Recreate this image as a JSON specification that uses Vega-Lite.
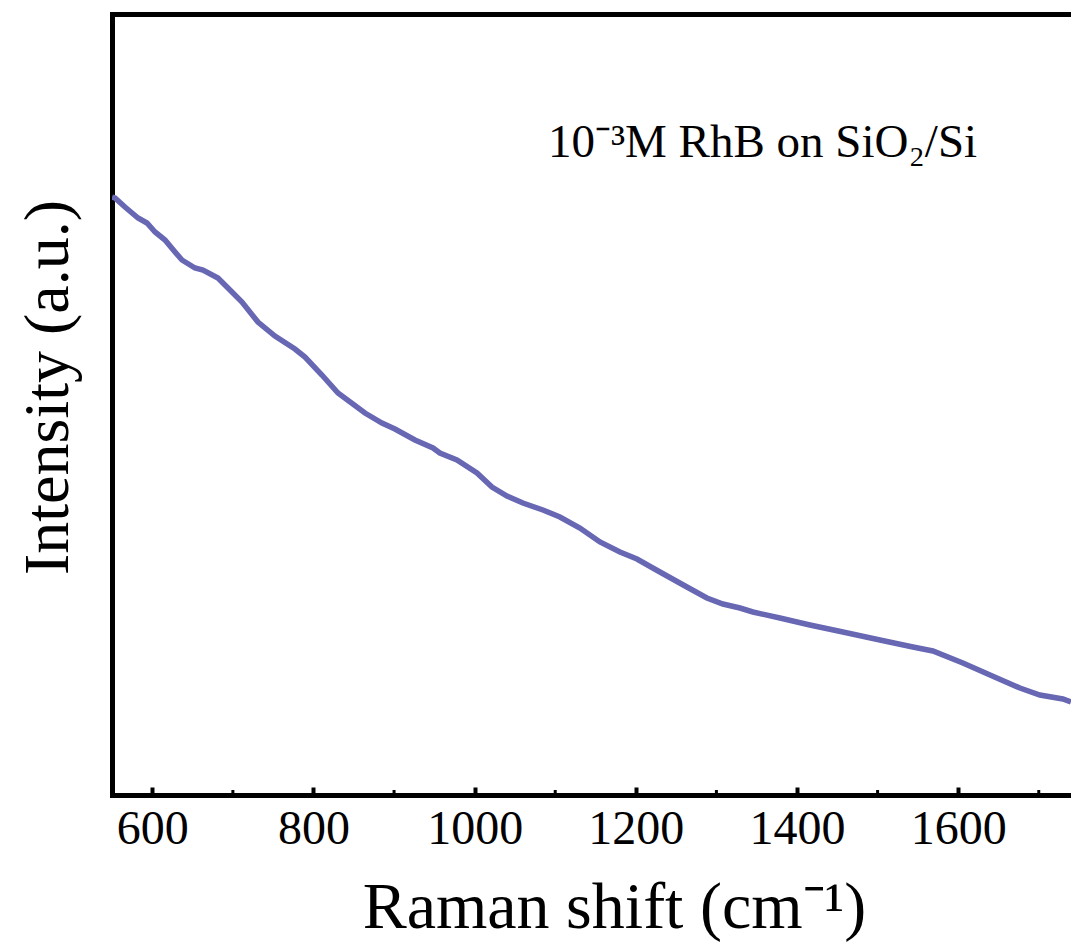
{
  "$schema": "https://vega.github.io/schema/vega-lite/v6.json",
  "width": 959,
  "height": 781,
  "autosize": "none",
  "padding": {"left": 112, "top": 14, "right": 0, "bottom": 148},
  "background": "white",
  "config": {"view": {"stroke": null}, "font": "Liberation Serif"},
  "layer": [
    {
      "data": {"values": [
        {"shift": 550.0, "intensity": 598},
        {"shift": 553.7, "intensity": 597},
        {"shift": 566.1, "intensity": 588},
        {"shift": 582.3, "intensity": 577},
        {"shift": 593.4, "intensity": 572},
        {"shift": 603.4, "intensity": 563},
        {"shift": 615.8, "intensity": 555},
        {"shift": 628.2, "intensity": 543},
        {"shift": 636.8, "intensity": 535},
        {"shift": 653.0, "intensity": 527},
        {"shift": 662.9, "intensity": 525},
        {"shift": 681.5, "intensity": 517},
        {"shift": 693.9, "intensity": 507},
        {"shift": 711.3, "intensity": 493},
        {"shift": 731.1, "intensity": 473},
        {"shift": 752.2, "intensity": 459},
        {"shift": 777.0, "intensity": 446},
        {"shift": 789.5, "intensity": 438},
        {"shift": 810.5, "intensity": 420},
        {"shift": 830.4, "intensity": 402},
        {"shift": 863.9, "intensity": 382},
        {"shift": 885.0, "intensity": 372},
        {"shift": 901.1, "intensity": 366},
        {"shift": 925.9, "intensity": 355},
        {"shift": 948.3, "intensity": 347},
        {"shift": 956.9, "intensity": 342},
        {"shift": 978.0, "intensity": 335},
        {"shift": 1002.9, "intensity": 322},
        {"shift": 1021.5, "intensity": 308},
        {"shift": 1040.1, "intensity": 299},
        {"shift": 1059.9, "intensity": 292},
        {"shift": 1084.7, "intensity": 285},
        {"shift": 1105.8, "intensity": 278},
        {"shift": 1130.6, "intensity": 267},
        {"shift": 1155.5, "intensity": 253},
        {"shift": 1180.3, "intensity": 243},
        {"shift": 1201.4, "intensity": 236},
        {"shift": 1229.9, "intensity": 223},
        {"shift": 1263.4, "intensity": 208},
        {"shift": 1288.2, "intensity": 197},
        {"shift": 1308.1, "intensity": 191},
        {"shift": 1329.2, "intensity": 187},
        {"shift": 1345.3, "intensity": 183},
        {"shift": 1378.8, "intensity": 177},
        {"shift": 1416.0, "intensity": 170},
        {"shift": 1457.0, "intensity": 163},
        {"shift": 1502.9, "intensity": 155},
        {"shift": 1543.8, "intensity": 148},
        {"shift": 1568.6, "intensity": 144},
        {"shift": 1605.8, "intensity": 132},
        {"shift": 1648.0, "intensity": 117},
        {"shift": 1676.6, "intensity": 107},
        {"shift": 1701.4, "intensity": 100},
        {"shift": 1729.9, "intensity": 96},
        {"shift": 1739.9, "intensity": 93}
      ]},
      "mark": {"type": "line", "color": "#6767b3", "strokeWidth": 5.5, "clip": true},
      "encoding": {
        "x": {
          "field": "shift", "type": "quantitative",
          "scale": {"domain": [550, 1740], "nice": false, "zero": false},
          "axis": {
            "orient": "bottom",
            "values": [600, 800, 1000, 1200, 1400, 1600],
            "format": "d",
            "grid": false,
            "domainColor": "black", "domainWidth": 5, "domainCap": "square",
            "tickColor": "black", "tickWidth": 4, "tickSize": -8,
            "labelFont": "Liberation Serif", "labelFontSize": 48, "labelColor": "black",
            "labelPadding": 18, "labelFlush": false,
            "title": "Raman shift (cm⁻¹)",
            "titleFont": "Liberation Serif", "titleFontSize": 66, "titleFontWeight": "normal",
            "titleColor": "black", "titleX": 502, "titleY": 132, "titleBaseline": "alphabetic"
          }
        },
        "y": {
          "field": "intensity", "type": "quantitative",
          "scale": {"domain": [0, 781], "nice": false, "zero": false},
          "axis": {
            "orient": "left",
            "grid": false, "ticks": false, "labels": false,
            "domainColor": "black", "domainWidth": 5, "domainCap": "square",
            "title": "Intensity (a.u.)",
            "titleFont": "Liberation Serif", "titleFontSize": 64, "titleFontWeight": "normal",
            "titleColor": "black", "titlePadding": 32, "titleY": 373
          }
        }
      }
    },
    {
      "data": {"values": [
        {"shift": 700}, {"shift": 900}, {"shift": 1100}, {"shift": 1300}, {"shift": 1500}, {"shift": 1700}
      ]},
      "mark": {"type": "rule", "color": "black", "strokeWidth": 3},
      "encoding": {
        "x": {
          "field": "shift", "type": "quantitative",
          "axis": {
            "orient": "top", "grid": false, "ticks": false, "labels": false,
            "domainColor": "black", "domainWidth": 5, "domainCap": "square", "title": null
          }
        },
        "y": {"datum": 0},
        "y2": {"datum": 5}
      }
    },
    {
      "data": {"values": [{"label": "10⁻³M RhB on SiO₂/Si"}]},
      "mark": {"type": "text", "align": "left", "baseline": "alphabetic", "font": "Liberation Serif", "fontSize": 47, "color": "black"},
      "encoding": {
        "x": {"datum": 1091, "axis": null},
        "y": {"datum": 638},
        "text": {"field": "label"}
      }
    }
  ]
}
